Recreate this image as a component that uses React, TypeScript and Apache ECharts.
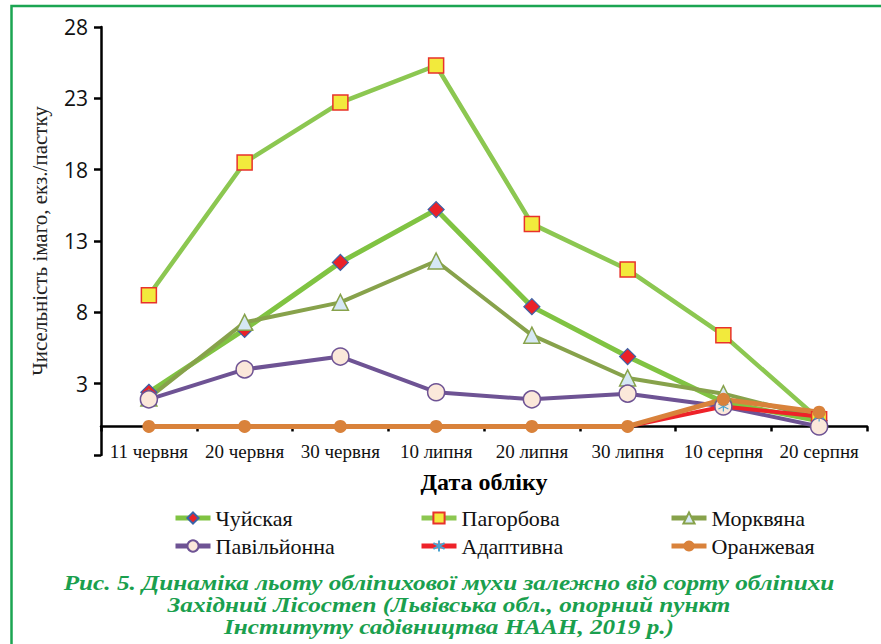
import React, { useEffect, useRef } from "react";
import * as echarts from "echarts";

const categories = ["11 червня", "20 червня", "30 червня", "10 липня", "20 липня", "30 липня", "10 серпня", "20 серпня"];
const chuiskaya = [2.4, 6.8, 11.5, 15.2, 8.4, 4.9, 1.7, 0.4];
const pagorbova = [9.2, 18.5, 22.7, 25.3, 14.2, 11.0, 6.4, 0.5];
const morkvyana = [2.0, 7.3, 8.7, 11.6, 6.4, 3.4, 2.3, 0.6];
const pavilionna = [1.9, 4.0, 4.9, 2.4, 1.9, 2.3, 1.4, 0];
const adaptyvna = [0, 0, 0, 0, 0, 0, 1.4, 0.7];
const oranzhevaya = [0, 0, 0, 0, 0, 0, 1.9, 1.0];
const yLabelValues = [3, 8, 13, 18, 23, 28];
const yTickValues = [-2, 3, 8, 13, 18, 23, 28];
const captionLines = [
  "Рис. 5. Динаміка льоту обліпихової мухи залежно від сорту обліпихи",
  "Західний Лісостеп (Львівська обл., опорний пункт",
  "Інституту садівництва НААН, 2019 р.)",
];

const SERIF = "Liberation Serif";
const SANS = "Open Sans";

export default function App() {
  const ref = useRef<HTMLDivElement>(null);
  useEffect(() => {
    if (!ref.current) return;
    const chart = echarts.init(ref.current, null, { renderer: "svg" });
    const legendText = { fontFamily: SERIF, fontSize: 22, color: "#111" };
    const legendCommon = {
      orient: "vertical" as const,
      top: 502,
      itemWidth: 35,
      itemHeight: 14,
      itemGap: 6,
      textStyle: legendText,
      lineStyle: { width: 5 },
    };
    chart.setOption({
      animation: false,
      backgroundColor: "#fff",
      grid: { left: 101, right: 14, top: 27, bottom: 189, containLabel: false },
      legend: [
        { ...legendCommon, left: 168, data: ["Чуйская", "Павільйонна"] },
        { ...legendCommon, left: 414, data: ["Пагорбова", "Адаптивна"] },
        { ...legendCommon, left: 664, data: ["Морквяна", "Оранжевая"] },
      ],
      xAxis: {
        type: "category",
        data: categories,
        boundaryGap: true,
        name: "Дата обліку",
        nameLocation: "middle",
        nameGap: 15,
        nameTextStyle: { fontFamily: SERIF, fontSize: 24, fontWeight: "bold", color: "#000" },
        axisLine: { onZero: true, lineStyle: { color: "#000", width: 2.5 } },
        axisTick: { show: true, length: 5, lineStyle: { color: "#000", width: 2.5 } },
        axisLabel: { fontFamily: SERIF, fontSize: 19, color: "#111", margin: -13, interval: 0 },
        splitLine: { show: false },
      },
      yAxis: {
        type: "value",
        min: -2,
        max: 28,
        name: "Чисельність імаго, екз./пастку",
        nameLocation: "middle",
        nameGap: 51,
        nameTextStyle: { fontFamily: SERIF, fontSize: 21, color: "#222" },
        axisLine: { show: true, onZero: false, lineStyle: { color: "#000", width: 2.5 } },
        axisTick: { show: true, length: 7, customValues: yTickValues, lineStyle: { color: "#000", width: 2.5 } },
        axisLabel: { fontFamily: SANS, fontSize: 21, color: "#111", margin: 13, customValues: yLabelValues },
        splitLine: { show: false },
      },
      graphic: [
        {
          type: "rect",
          shape: { x: 11.5, y: 6, width: 1000, height: 1000 },
          style: { fill: "none", stroke: "#1ba552", lineWidth: 2.5 },
          silent: true,
        },
        ...captionLines.map((t, i) => ({
          type: "text",
          x: 449,
          y: 583 + i * 22,
          scaleX: 1.2,
          style: {
            text: t,
            fill: "#1a9f4e",
            fontFamily: SERIF,
            fontSize: 21,
            fontStyle: "italic",
            fontWeight: "bold",
            textAlign: "center",
            textVerticalAlign: "middle",
          },
        })),
      ],
      series: [
        {
          name: "Чуйская",
          type: "line",
          data: chuiskaya,
          symbol: "diamond",
          symbolSize: 16,
          lineStyle: { color: "#80c342", width: 5 },
          itemStyle: { color: "#ea2128", borderColor: "#3b63a8", borderWidth: 1.2 },
        },
        {
          name: "Пагорбова",
          type: "line",
          data: pagorbova,
          symbol: "rect",
          symbolSize: 15,
          lineStyle: { color: "#8cc751", width: 4.5 },
          itemStyle: { color: "#f2ea3c", borderColor: "#e8322b", borderWidth: 1.5 },
        },
        {
          name: "Морквяна",
          type: "line",
          data: morkvyana,
          symbol: "triangle",
          symbolSize: 16,
          lineStyle: { color: "#87a24b", width: 4 },
          itemStyle: { color: "#d6e8f5", borderColor: "#87a24b", borderWidth: 1.5 },
        },
        {
          name: "Павільйонна",
          type: "line",
          data: pavilionna,
          symbol: "circle",
          symbolSize: 17,
          lineStyle: { color: "#6e5394", width: 4 },
          itemStyle: { color: "#fbe8da", borderColor: "#6e5394", borderWidth: 1.5 },
        },
        {
          name: "Адаптивна",
          type: "line",
          data: adaptyvna,
          symbol: "path://M5,0 L5,10 M0.7,2.5 L9.3,7.5 M0.7,7.5 L9.3,2.5",
          symbolSize: 10,
          lineStyle: { color: "#ee2229", width: 4 },
          itemStyle: { color: "none", borderColor: "#4aa3d0", borderWidth: 1.2 },
        },
        {
          name: "Оранжевая",
          type: "line",
          data: oranzhevaya,
          symbol: "circle",
          symbolSize: 13,
          lineStyle: { color: "#d9823b", width: 5 },
          itemStyle: { color: "#d9823b", borderColor: "#d9823b", borderWidth: 0 },
        },
      ],
    });
    return () => chart.dispose();
  }, []);
  return <div ref={ref} style={{ position: "fixed", left: 0, top: 0, width: 881, height: 644 }} />;
}
